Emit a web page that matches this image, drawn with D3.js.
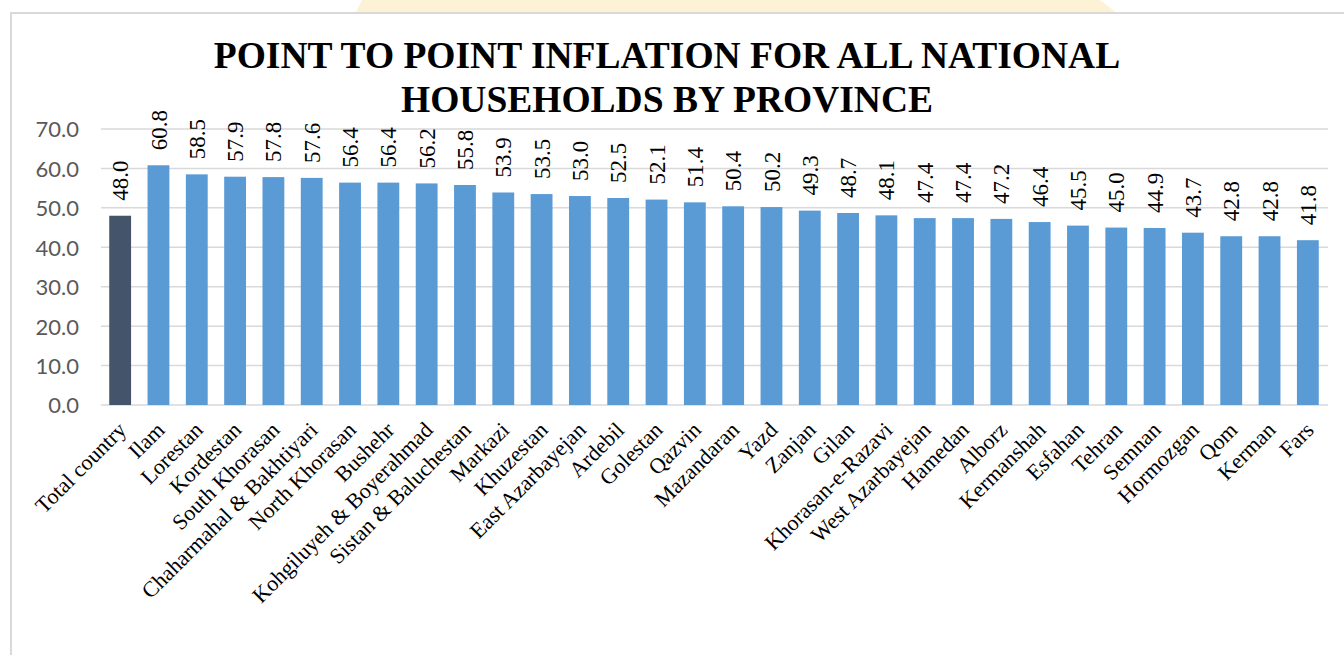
<!DOCTYPE html>
<html>
<head>
<meta charset="utf-8">
<script src="https://cdn.jsdelivr.net/npm/d3@7/dist/d3.min.js"></script>
<style>
  html, body { margin: 0; padding: 0; background: #ffffff; overflow: hidden; }
  svg { display: block; }
</style>
</head>
<body>
<svg id="chart" width="1344" height="655"></svg>
<script>
const categories = ["Total country","Ilam","Lorestan","Kordestan","South Khorasan","Chaharmahal & Bakhtiyari","North Khorasan","Bushehr","Kohgiluyeh & Boyerahmad","Sistan & Baluchestan","Markazi","Khuzestan","East Azarbayejan","Ardebil","Golestan","Qazvin","Mazandaran","Yazd","Zanjan","Gilan","Khorasan-e-Razavi","West Azarbayejan","Hamedan","Alborz","Kermanshah","Esfahan","Tehran","Semnan","Hormozgan","Qom","Kerman","Fars"];
const values = [48.0,60.8,58.5,57.9,57.8,57.6,56.4,56.4,56.2,55.8,53.9,53.5,53.0,52.5,52.1,51.4,50.4,50.2,49.3,48.7,48.1,47.4,47.4,47.2,46.4,45.5,45.0,44.9,43.7,42.8,42.8,41.8];
const yTicks = [0,10,20,30,40,50,60,70];
const titleLines = ["POINT TO POINT INFLATION FOR ALL NATIONAL","HOUSEHOLDS BY PROVINCE"];

const svg = d3.select("#chart");

// decorative background shape and frame
svg.append("path")
  .attr("d", "M362,0 L1100,0 L1118,14 L355,14 Z")
  .attr("fill", "#fef2d6");
svg.append("rect").attr("x", 11).attr("y", 14).attr("width", 1333).attr("height", 641).attr("fill", "#ffffff");
svg.append("path")
  .attr("d", "M11,655 L11,13 L1344,13")
  .attr("fill", "none").attr("stroke", "#d9d9d9").attr("stroke-width", 2);

const x = d3.scaleBand().domain(categories).range([101, 1327]).paddingInner(0.43).paddingOuter(0.215);
const y = d3.scaleLinear().domain([0, 70]).range([405, 129]);

// gridlines
svg.append("g").selectAll("line").data(yTicks).join("line")
  .attr("x1", 101).attr("x2", 1328)
  .attr("y1", d => y(d)).attr("y2", d => y(d))
  .attr("stroke", "#d9d9d9").attr("stroke-width", 1.5);

// y axis labels
const yAxis = d3.axisLeft(y).tickValues(yTicks).tickFormat(d3.format(".1f")).tickSize(0).tickPadding(0);
const yg = svg.append("g").attr("transform", "translate(79,0)").call(yAxis);
yg.select(".domain").remove();
yg.selectAll("text")
  .attr("font-family", "Lato, 'Open Sans', sans-serif")
  .attr("font-size", 22).attr("fill", "#595959").attr("dy", "0.36em");

// bars
svg.append("g").selectAll("rect").data(values).join("rect")
  .attr("x", (d, i) => x(categories[i]))
  .attr("width", x.bandwidth())
  .attr("y", d => y(d))
  .attr("height", d => y(0) - y(d))
  .attr("fill", (d, i) => i === 0 ? "#44546a" : "#5b9bd5");

// data labels
svg.append("g").selectAll("text").data(values).join("text")
  .attr("transform", (d, i) => `translate(${x(categories[i]) + x.bandwidth() / 2},${y(d) - 15}) rotate(-90)`)
  .attr("dy", "0.35em")
  .attr("text-anchor", "start")
  .attr("font-family", "'Liberation Serif', 'Times New Roman', serif")
  .attr("font-size", 23).attr("fill", "#000")
  .text(d => d.toFixed(1));

// x axis labels
const xAxis = d3.axisBottom(x).tickSize(0).tickPadding(0);
const xg = svg.append("g").attr("transform", "translate(0,405)").call(xAxis);
xg.select(".domain").remove();
xg.selectAll("text")
  .attr("font-family", "'Liberation Serif', 'Times New Roman', serif")
  .attr("font-size", 22).attr("fill", "#000")
  .attr("text-anchor", "end")
  .attr("dy", "0.6em")
  .attr("transform", "translate(-2,17) rotate(-45)");

// title
svg.append("g").selectAll("text").data(titleLines).join("text")
  .attr("x", 667).attr("y", (d, i) => 68 + i * 44)
  .attr("text-anchor", "middle")
  .attr("font-family", "'Liberation Serif', 'Times New Roman', serif")
  .attr("font-weight", "bold").attr("font-size", 37.5).attr("fill", "#000")
  .text(d => d);
</script>
</body>
</html>
